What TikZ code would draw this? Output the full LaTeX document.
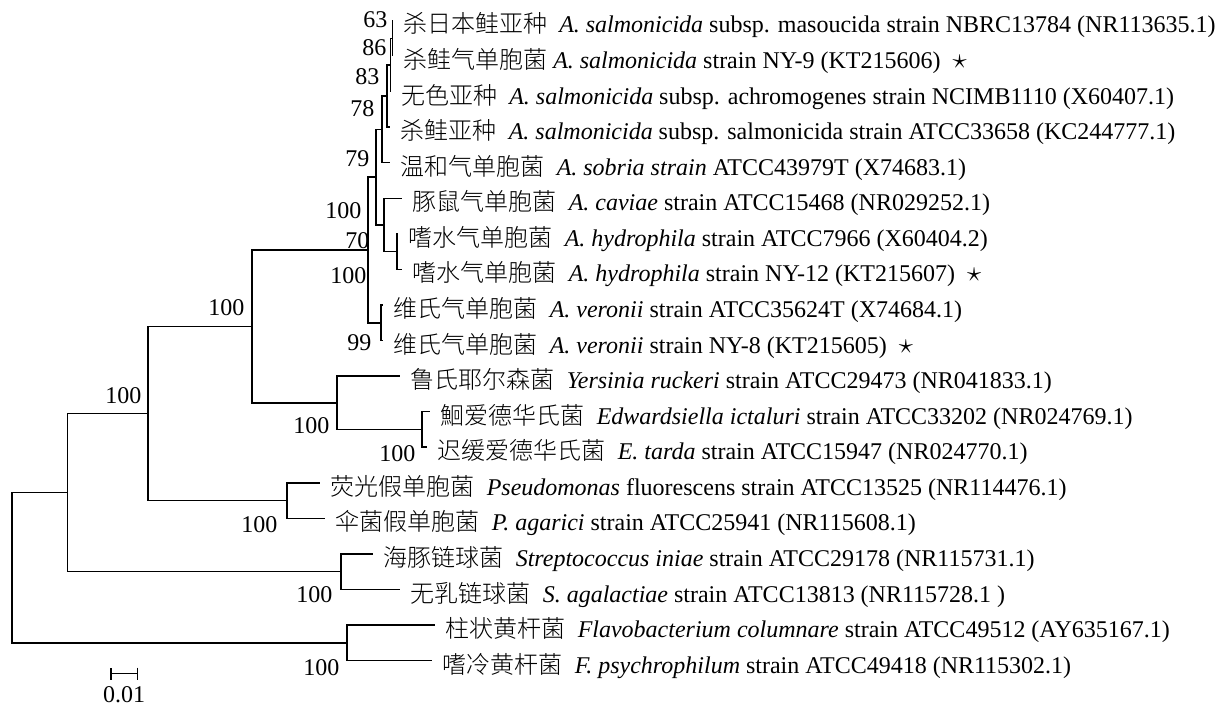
\documentclass[tikz,border=0pt]{standalone}
\usepackage{fontspec}
\setmainfont{Liberation Serif}
\newfontfamily\cjk{Noto Sans CJK SC}[UprightFont={* Light}]
\usetikzlibrary{arrows.meta}
\newcommand{\cn}[1]{{\cjk #1}\hspace{6pt}}
\newcommand{\ownstrain}{{\fontsize{15}{15}\selectfont$\star$}}

\begin{document}
\begin{tikzpicture}[x=0.5pt, y=-0.5pt, line width=0.75pt,
		font=\fontsize{12}{14}\selectfont,
		taxon/.style={anchor=base west, inner sep=0pt, xshift=5pt, yshift=-6.25pt},
		boot/.style={anchor=base east, inner sep=0pt}]
		\useasboundingbox (0,0) rectangle (1219,706);
		% inner nodes of the tree
		\coordinate (salA) at (392.5,38.3);
		\coordinate (salB) at (390.5,64.9);
		\coordinate (salC) at (387,96.1);
		\coordinate (salD) at (382,129.4);
		\coordinate (hyd) at (397,251.7);
		\coordinate (cavhyd) at (384,225.0);
		\coordinate (aerAB) at (376,177.2);
		\coordinate (ver) at (381,322.8);
		\coordinate (aer) at (368,250.0);
		\coordinate (edw) at (422,429.5);
		\coordinate (entero) at (337,402.8);
		\coordinate (gamma) at (252,326.4);
		\coordinate (pseu) at (287,500.6);
		\coordinate (prot) at (148,413.5);
		\coordinate (strep) at (341,571.7);
		\coordinate (bact) at (67.5,492.6);
		\coordinate (flavo) at (347,642.8);
		\coordinate (root) at (12,567.7);
		% leaf tips
		\coordinate (t1) at (392.5,20.5);
		\coordinate (t2) at (392.5,56.1);
		\coordinate (t3) at (390.5,91.6);
		\coordinate (t4) at (390,127.2);
		\coordinate (t5) at (390,162.7);
		\coordinate (t6) at (402,198.3);
		\coordinate (t7) at (398,233.9);
		\coordinate (t8) at (402,269.4);
		\coordinate (t9) at (383,305.0);
		\coordinate (t10) at (383,340.5);
		\coordinate (t11) at (400,376.1);
		\coordinate (t12) at (430,411.7);
		\coordinate (t13) at (427,447.2);
		\coordinate (t14) at (320,482.8);
		\coordinate (t15) at (325,518.3);
		\coordinate (t16) at (373,553.9);
		\coordinate (t17) at (400,589.5);
		\coordinate (t18) at (435,625.0);
		\coordinate (t19) at (432,660.6);
		% branches
		\draw
			(salA) |- (t1) (salA) |- (t2)
			(salB) |- (salA) (salB) |- (t3)
			(salC) |- (salB) (salC) |- (t4)
			(salD) |- (salC) (salD) |- (t5)
			(hyd) |- (t7) (hyd) |- (t8)
			(cavhyd) |- (t6) (cavhyd) |- (hyd)
			(aerAB) |- (salD) (aerAB) |- (cavhyd)
			(ver) |- (t9) (ver) |- (t10)
			(aer) |- (aerAB) (aer) |- (ver)
			(edw) |- (t12) (edw) |- (t13)
			(entero) |- (t11) (entero) |- (edw)
			(gamma) |- (aer) (gamma) |- (entero)
			(pseu) |- (t14) (pseu) |- (t15)
			(prot) |- (gamma) (prot) |- (pseu)
			(strep) |- (t16) (strep) |- (t17)
			(bact) |- (prot) (bact) |- (strep)
			(flavo) |- (t18) (flavo) |- (t19)
			(root) |- (bact) (root) |- (flavo);
		% strains
		\node[taxon] (s1) at (t1) {\cn{杀日本鲑亚种}\textit{A. salmonicida} subsp. masoucida strain NBRC13784 (NR113635.1)};
		\node[taxon] (s2) at (t2) {{\cjk 杀鲑气单胞菌} \textit{A. salmonicida} strain NY-9 (KT215606) \ \ownstrain};
		\node[taxon] (s3) at (t3) {\cn{无色亚种}\textit{A. salmonicida} subsp. achromogenes strain NCIMB1110 (X60407.1)};
		\node[taxon] (s4) at (t4) {\cn{杀鲑亚种}\textit{A. salmonicida} subsp. salmonicida strain ATCC33658 (KC244777.1)};
		\node[taxon] (s5) at (t5) {\cn{温和气单胞菌}\textit{A. sobria strain} ATCC43979T (X74683.1)};
		\node[taxon] (s6) at (t6) {\cn{豚鼠气单胞菌}\textit{A. caviae} strain ATCC15468 (NR029252.1)};
		\node[taxon] (s7) at (t7) {\cn{嗜水气单胞菌}\textit{A. hydrophila} strain ATCC7966 (X60404.2)};
		\node[taxon] (s8) at (t8) {\cn{嗜水气单胞菌}\textit{A. hydrophila} strain NY-12 (KT215607) \ \ownstrain};
		\node[taxon] (s9) at (t9) {\cn{维氏气单胞菌}\textit{A. veronii} strain ATCC35624T (X74684.1)};
		\node[taxon] (s10) at (t10) {\cn{维氏气单胞菌}\textit{A. veronii} strain NY-8 (KT215605) \ \ownstrain};
		\node[taxon] (s11) at (t11) {\cn{鲁氏耶尔森菌}\textit{Yersinia ruckeri} strain ATCC29473 (NR041833.1)};
		\node[taxon] (s12) at (t12) {\cn{鮰爱德华氏菌}\textit{Edwardsiella ictaluri} strain ATCC33202 (NR024769.1)};
		\node[taxon] (s13) at (t13) {\cn{迟缓爱德华氏菌}\textit{E. tarda} strain ATCC15947 (NR024770.1)};
		\node[taxon] (s14) at (t14) {\cn{荧光假单胞菌}\textit{Pseudomonas} fluorescens strain ATCC13525 (NR114476.1)};
		\node[taxon] (s15) at (t15) {\cn{伞菌假单胞菌}\textit{P. agarici} strain ATCC25941 (NR115608.1)};
		\node[taxon] (s16) at (t16) {\cn{海豚链球菌}\textit{Streptococcus iniae} strain ATCC29178 (NR115731.1)};
		\node[taxon] (s17) at (t17) {\cn{无乳链球菌}\textit{S. agalactiae} strain ATCC13813 (NR115728.1 )};
		\node[taxon] (s18) at (t18) {\cn{柱状黄杆菌}\textit{Flavobacterium columnare} strain ATCC49512 (AY635167.1)};
		\node[taxon] (s19) at (t19) {\cn{嗜冷黄杆菌}\textit{F. psychrophilum} strain ATCC49418 (NR115302.1)};
		% bootstrap values
		\node[boot] (bsalA) at (388,28) {63};
		\node[boot] (bsalB) at (387,56) {86};
		\node[boot] (bsalC) at (380,85) {83};
		\node[boot] (bsalD) at (375,117) {78};
		\node[boot] (baerAB) at (370,166) {79};
		\node[boot] (bcavhyd) at (362,218) {100};
		\node[boot] (baer) at (370,248) {70};
		\node[boot] (bhyd) at (367,283) {100};
		\node[boot] (bver) at (372,350) {99};
		\node[boot] (bgamma) at (245,315) {100};
		\node[boot] (bprot) at (142,403) {100};
		\node[boot] (bentero) at (330,433) {100};
		\node[boot] (bedw) at (416,461) {100};
		\node[boot] (bpseu) at (278,532) {100};
		\node[boot] (bstrep) at (333,602) {100};
		\node[boot] (bflavo) at (340,675) {100};
		% scale bar
		\coordinate (bar0) at (110,673.5);
		\coordinate (bar1) at (138,673.5);
		\draw[{Bar[width=6pt]}-{Bar[width=6pt]}] (bar0) -- (bar1);
		\node[anchor=base, inner sep=0pt] (barlabel) at (124,702) {0.01};
\end{tikzpicture}
\end{document}
